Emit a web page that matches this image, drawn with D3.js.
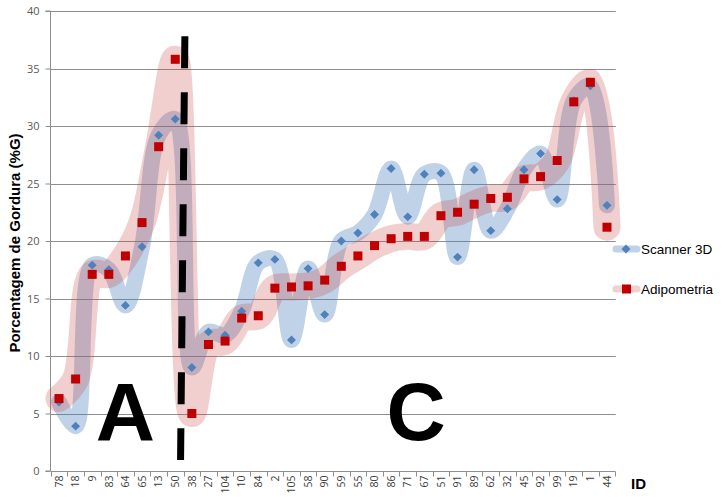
<!DOCTYPE html>
<html><head><meta charset="utf-8">
<script src="https://cdn.jsdelivr.net/npm/d3@7"></script>
<style>
body{margin:0;background:#fff;}
svg{display:block;font-family:"Liberation Sans",Arial,sans-serif;}
</style></head>
<body><svg id="c" width="723" height="497"></svg>
<script>
const ids = ["78","18","9","83","64","65","13","50","38","27","104","10","84","2","105","58","90","59","55","80","86","71","67","51","91","89","62","32","45","92","99","19","1","44"];
const scanner3D = [6.0,3.9,17.9,17.5,14.4,19.5,29.2,30.6,9.0,12.1,11.8,13.9,18.1,18.4,11.4,17.6,13.6,20.0,20.7,22.3,26.3,22.1,25.8,25.9,18.6,26.2,20.9,22.8,26.2,27.6,23.6,32.2,33.5,23.1];
const adipometria = [6.3,8.0,17.1,17.1,18.7,21.6,28.2,35.8,5.0,11.0,11.3,13.3,13.5,15.9,16.0,16.1,16.6,17.8,18.7,19.6,20.2,20.4,20.4,22.2,22.5,23.2,23.7,23.8,25.4,25.6,27.0,32.1,33.8,21.2];
const yTicks = [0,5,10,15,20,25,30,35,40];
const seriesNames = ["Scanner 3D","Adipometria"];
const groupLabels = ["A","C"];

const svg = d3.select("#c");
const L = 50.7, R = 615.3, T = 11, B = 471;
const x = d3.scaleBand().domain(ids).range([L, R]).padding(0);
const cx = d => x(d) + x.bandwidth()/2;
const xi = i => L + (i + 0.5) * x.bandwidth();
const y = d3.scaleLinear().domain([0,40]).range([B, T]);

// gridlines
svg.append("g").selectAll("line").data(yTicks.filter(v=>v>0)).join("line")
  .attr("x1", L).attr("x2", R+0.5).attr("y1", d=>Math.round(y(d))+0.5).attr("y2", d=>Math.round(y(d))+0.5)
  .attr("stroke", "#8e8e8e").attr("stroke-width", 1);

// y axis
const ya = svg.append("g").attr("transform", `translate(${Math.round(L)-0.5},0)`)
  .call(d3.axisLeft(y).tickValues(yTicks).tickSize(5).tickPadding(6));
ya.select(".domain").attr("stroke", "#8e8e8e").attr("d", `M-5,${y(0)}H0V${y(40)}H-5`);
ya.selectAll(".tick line").attr("stroke", "#8e8e8e");
ya.selectAll(".tick text").attr("fill", "#595959").style("font-size", "11px").style("font-family", "'Open Sans','Liberation Sans',sans-serif");

// x axis
const xa = svg.append("g").attr("transform", `translate(0,${Math.round(B)+0.5})`);
xa.append("line").attr("x1", L).attr("x2", R).attr("stroke", "#8e8e8e");
xa.selectAll("line.t").data(ids.concat(["_end"])).join("line").attr("class","t")
  .attr("x1", (d,i)=>Math.round(L + i*x.bandwidth())+0.5).attr("x2", (d,i)=>Math.round(L + i*x.bandwidth())+0.5)
  .attr("y1", 0).attr("y2", 5).attr("stroke", "#8e8e8e");
xa.selectAll("text").data(ids).join("text")
  .attr("transform", d=>`translate(${cx(d)},4) rotate(-90)`)
  .attr("text-anchor", "end").attr("dy", "0.35em")
  .attr("fill", "#404040").style("font-size", "10.5px")
  .style("font-family", "'Open Sans','Liberation Sans',sans-serif")
  .text(d=>d);

// y axis title
svg.append("text").attr("transform", `translate(15,${(T+B)/2+2}) rotate(-90)`)
  .attr("text-anchor", "middle").attr("dy", "0.35em")
  .style("font-size", "15px").style("font-weight", "bold").attr("fill", "#000")
  .text("Porcentagem de Gordura (%G)");
svg.append("text").attr("x", 631).attr("y", 489).style("font-size", "15px").style("font-weight", "bold").text("ID");

// bands
const line = d3.line().x((d,i)=>xi(i)).y(d=>y(d)).curve(d3.curveCatmullRom.alpha(0.5));
svg.append("path").attr("d", line(scanner3D)).attr("fill","none")
  .attr("stroke", "rgb(79,129,189)").attr("stroke-opacity", 0.36).attr("stroke-width", 16)
  .attr("stroke-linejoin","round").attr("stroke-linecap","round");
svg.append("path").attr("d", line(adipometria)).attr("fill","none")
  .attr("stroke", "rgb(200,70,70)").attr("stroke-opacity", 0.26).attr("stroke-width", 27)
  .attr("stroke-linejoin","round").attr("stroke-linecap","round");

// markers
const diamond = d3.symbol().type(d3.symbolSquare).size(40);
svg.append("g").selectAll("path").data(scanner3D).join("path")
  .attr("d", diamond).attr("transform", (d,i)=>`translate(${xi(i)},${y(d)}) rotate(45)`)
  .attr("fill", "#4f81bd");
svg.append("g").selectAll("rect").data(adipometria).join("rect")
  .attr("x", (d,i)=>xi(i)-4.5).attr("y", d=>y(d)-4.5).attr("width", 9).attr("height", 9)
  .attr("fill", "#c00000");

// dashed divider
svg.append("line").attr("x1", xi(7.58)).attr("y1", y(37.8)).attr("x2", xi(7.32)).attr("y2", y(0.96))
  .attr("stroke", "#000").attr("stroke-width", 7).attr("stroke-dasharray", "32,24");

// group letters
svg.append("text").attr("x", xi(4)).attr("y", y(2.7)).attr("text-anchor","middle")
  .style("font-size","82px").style("font-weight","bold").text(groupLabels[0]);
svg.append("text").attr("x", xi(21.5)).attr("y", y(2.7)).attr("text-anchor","middle")
  .style("font-size","82px").style("font-weight","bold").text(groupLabels[1]);

// legend
const lg = svg.append("g");
[[249,"rgb(79,129,189)",0.36,seriesNames[0]],[289,"rgb(200,70,70)",0.26,seriesNames[1]]].forEach(([ly,col,op,name],k)=>{
  lg.append("line").attr("x1",616).attr("x2",637).attr("y1",ly).attr("y2",ly)
    .attr("stroke",col).attr("stroke-opacity",op).attr("stroke-width",7).attr("stroke-linecap","round");
  if(k===0) lg.append("path").attr("d", diamond).attr("transform",`translate(626,${ly}) rotate(45)`).attr("fill","#4f81bd");
  else lg.append("rect").attr("x",622).attr("y",ly-4.5).attr("width",9).attr("height",9).attr("fill","#c00000");
  lg.append("text").attr("x",641).attr("y",ly).attr("dy","0.35em").style("font-size","13.5px").attr("fill","#000").text(name);
});
</script></body></html>
